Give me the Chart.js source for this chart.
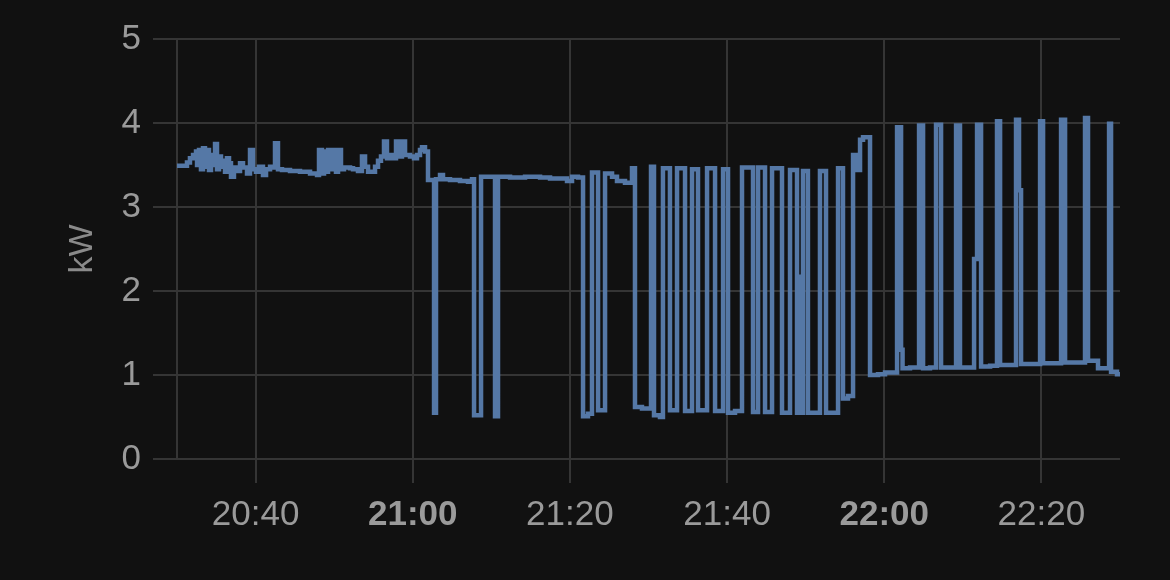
<!DOCTYPE html>
<html>
<head>
<meta charset="utf-8">
<script src="https://cdn.jsdelivr.net/npm/chart.js@4.4.1/dist/chart.umd.min.js"></script>
<style>
  html, body { margin: 0; padding: 0; background: #111111; }
  #wrap { width: 1170px; height: 580px; }
</style>
</head>
<body>
<div id="wrap"><canvas id="c" width="1170" height="580"></canvas></div>
<script>
// Time in minutes past 20:00, power in kW (stepped series)
const minutes = [
  30.00, 31.27, 31.65, 32.04, 32.42, 32.55, 32.80, 33.05, 33.31, 33.56, 33.82, 34.07, 34.33, 34.58,
  34.84, 35.09, 35.35, 35.60, 35.85, 36.11, 36.36, 36.62, 36.87, 37.25, 37.64, 38.02, 38.40, 38.91,
  39.29, 39.67, 40.05, 40.44, 40.94, 41.33, 41.84, 42.34, 42.47, 42.85, 43.36, 44.38, 45.65, 46.93,
  47.82, 48.07, 48.45, 48.71, 48.96, 49.22, 49.60, 49.85, 50.23, 50.49, 50.87, 51.25, 52.02, 52.40,
  53.03, 53.54, 53.93, 54.31, 55.20, 55.58, 55.96, 56.34, 56.72, 57.11, 57.49, 57.87, 58.25, 58.63,
  59.02, 59.65, 60.16, 60.54, 60.92, 61.18, 61.56, 61.94,
  62.71, 62.96, 63.47, 63.85, 64.74, 66.01, 67.03, 67.54, 67.80, 68.69, 70.47, 70.85, 72.38, 74.29,
  76.20, 77.47, 78.74, 79.63, 80.27, 81.03, 81.67, 82.30, 82.81, 83.58, 84.47, 85.36, 85.99, 87.01,
  87.90, 88.28, 89.17, 90.32, 90.70, 91.46, 91.84, 92.73, 93.63, 94.65, 95.54, 96.30, 97.45, 98.47,
  99.49, 100.12, 101.01, 101.90, 103.30, 103.94, 104.83, 105.72, 106.99, 108.01, 108.90, 109.03,
  109.16, 109.66, 110.29, 111.82, 112.59, 114.12, 114.75, 115.39, 116.03, 116.54, 116.92, 117.30,
  118.19, 119.21, 120.10, 121.63, 122.14, 122.33, 123.28, 124.43, 124.94, 125.82, 126.59, 127.23,
  128.37, 129.14, 129.64, 131.43, 131.81, 132.32, 133.47, 134.35, 134.74, 135.76, 136.77, 137.15,
  137.41, 138.56, 139.83, 140.21, 141.35, 142.50, 143.01, 144.28, 145.55, 145.93, 147.20, 148.61,
  148.86, 149.62, 150.13
];
const kw = [
  3.49, 3.53, 3.58, 3.62, 3.66, 3.50, 3.68, 3.45, 3.70, 3.48, 3.68, 3.44, 3.62, 3.50,
  3.75, 3.45, 3.60, 3.48, 3.55, 3.42, 3.58, 3.52, 3.36, 3.47, 3.43, 3.52, 3.47, 3.40,
  3.68, 3.45, 3.42, 3.48, 3.38, 3.45, 3.48, 3.47, 3.76, 3.45, 3.44, 3.43, 3.42, 3.40,
  3.38, 3.68, 3.40, 3.66, 3.42, 3.68, 3.45, 3.68, 3.42, 3.68, 3.45, 3.47, 3.46, 3.45,
  3.43, 3.60, 3.48, 3.42, 3.48, 3.55, 3.60, 3.78, 3.58, 3.62, 3.58, 3.78, 3.60, 3.78,
  3.62, 3.60, 3.58, 3.62, 3.68, 3.71, 3.66, 3.32,
  0.55, 3.33, 3.38, 3.33, 3.32, 3.31, 3.30, 3.33, 0.52, 3.36, 0.51, 3.36, 3.35, 3.36,
  3.35, 3.34, 3.34, 3.31, 3.36, 3.35, 0.51, 0.54, 3.41, 0.58, 3.40, 3.36, 3.31, 3.29,
  3.46, 0.62, 0.60, 3.48, 0.52, 0.50, 3.46, 0.58, 3.46, 0.57, 3.45, 0.58, 3.46, 0.57,
  3.45, 0.55, 0.57, 3.47, 0.56, 3.47, 0.56, 3.46, 0.55, 3.44, 0.55, 2.17,
  0.55, 3.43, 0.55, 3.43, 0.55, 3.46, 0.72, 0.75, 3.62, 3.44, 3.80, 3.83,
  1.00, 1.01, 1.03, 3.95, 1.30, 1.08, 1.09, 3.97, 1.08, 1.09, 3.98, 1.09,
  1.09, 3.97, 1.09, 2.38, 3.98, 1.10, 1.11, 4.02, 1.12, 1.12, 4.04, 3.20,
  1.13, 1.13, 4.02, 1.14, 1.14, 4.04, 1.15, 1.15, 4.06, 1.17, 1.08, 3.99,
  1.04, 1.01, 1.02
];
// Axis ticks
const xTickMinutes = [40, 60, 80, 100, 120, 140];
const yTicks = [0, 1, 2, 3, 4, 5];
const yTitle = 'kW';

function fmt(m) {
  const h = 20 + Math.floor(m / 60);
  const mm = Math.round(m % 60);
  return h + ':' + String(mm).padStart(2, '0');
}

const points = minutes.map((m, i) => ({ x: m, y: kw[i] }));
const GRID = '#353535';
const FONT = "'Liberation Sans', Arial, Helvetica, sans-serif";

new Chart(document.getElementById('c'), {
  type: 'line',
  data: {
    datasets: [{
      data: points,
      stepped: true,
      borderColor: '#5578a6',
      borderWidth: 4.5,
      pointRadius: 0,
      fill: false,
      tension: 0
    }]
  },
  options: {
    responsive: false,
    animation: false,
    devicePixelRatio: 1,
    layout: { padding: { top: 39, right: 50, left: 0, bottom: 0 } },
    plugins: { legend: { display: false }, tooltip: { enabled: false } },
    scales: {
      x: {
        type: 'linear',
        min: 30,
        max: 150,
        afterBuildTicks: (scale) => { scale.ticks = xTickMinutes.map(v => ({ value: v })); },
        afterFit: (scale) => { scale.height = 121; },
        grid: { color: GRID, lineWidth: 2, tickLength: 24, drawTicks: true },
        border: { display: false },
        ticks: {
          color: '#9a9a9a',
          padding: 11,
          maxRotation: 0,
          autoSkip: false,
          font: (ctx) => ({ family: FONT, size: 35, weight: (ctx.tick && ctx.tick.value % 60 === 0) ? 'bold' : 'normal' }),
          callback: (v) => fmt(v)
        }
      },
      y: {
        min: 0,
        max: 5,
        afterBuildTicks: (scale) => { scale.ticks = yTicks.map(v => ({ value: v })); },
        afterFit: (scale) => { scale.width = 177; },
        grid: { color: GRID, lineWidth: 2, tickLength: 24, drawTicks: true },
        border: { display: true, color: GRID, width: 2 },
        ticks: {
          color: '#9a9a9a',
          padding: 12,
          font: { family: FONT, size: 35 },
          callback: (v) => String(v)
        },
        title: {
          display: true,
          text: yTitle,
          color: '#8a8a8a',
          font: { family: FONT, size: 34 },
          padding: { top: 62, bottom: 0 }
        }
      }
    }
  }
});
</script>
</body>
</html>
